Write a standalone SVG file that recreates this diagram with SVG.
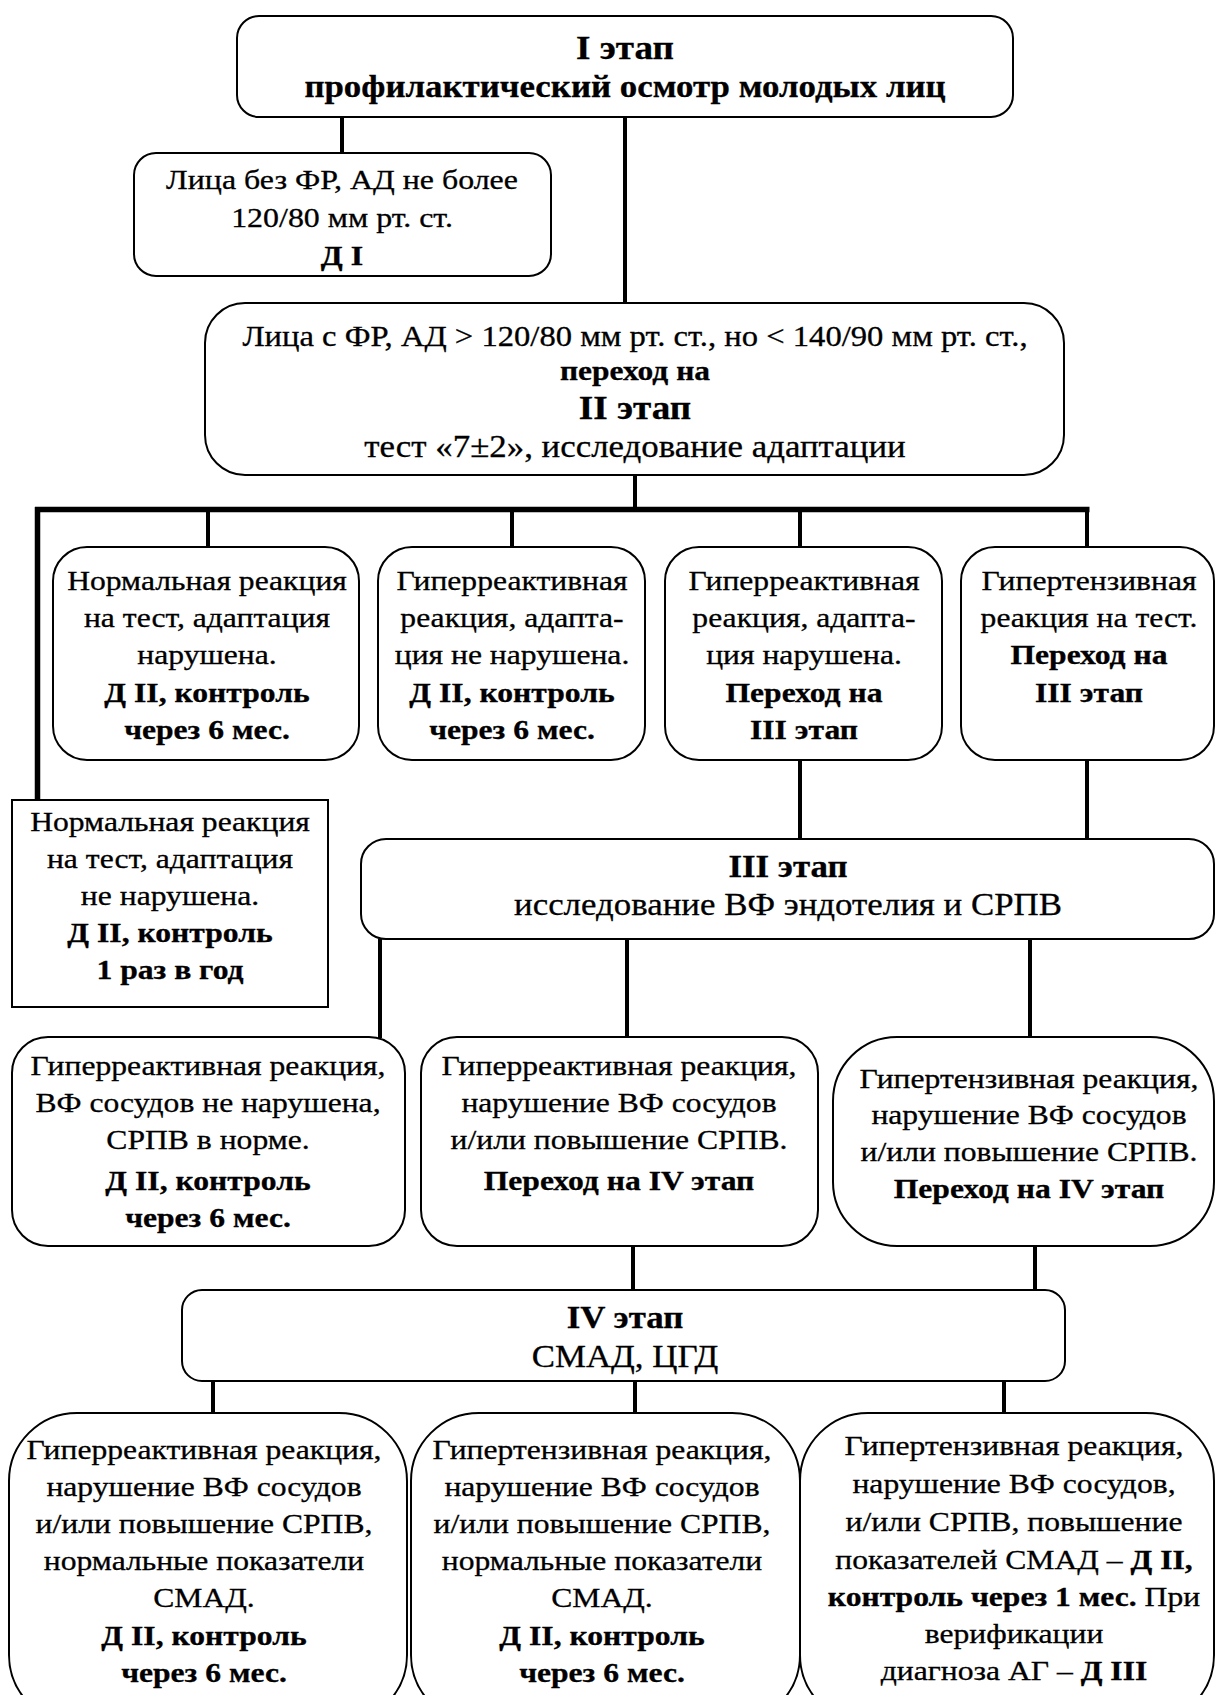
<svg xmlns="http://www.w3.org/2000/svg" width="1217" height="1695" viewBox="0 0 1217 1695">
<style>
.box{fill:#fff;stroke:#000;stroke-width:2}
.t{font-family:"Liberation Serif","Times New Roman",serif;font-size:28px;text-anchor:middle;fill:#000;stroke:#000;stroke-width:0.3}
.b{font-weight:bold}
.big{font-size:31px}
.hd{font-size:33px}
#connectors line{stroke:#000;stroke-width:4}
#connectors .bus{stroke-width:5.5}
</style>
<rect width="1217" height="1695" fill="#fff"/>
<g id="connectors">
<line x1="342" y1="117" x2="342" y2="154"/>
<line x1="625" y1="117" x2="625" y2="304"/>
<line x1="635" y1="475" x2="635" y2="509"/>
<line class="bus" x1="35" y1="509.5" x2="1089.5" y2="509.5"/>
<line class="bus" x1="37.5" y1="507" x2="37.5" y2="801"/>
<line x1="208" y1="509" x2="208" y2="548"/>
<line x1="512" y1="509" x2="512" y2="548"/>
<line x1="800" y1="509" x2="800" y2="548"/>
<line x1="1087" y1="509" x2="1087" y2="548"/>
<line x1="800" y1="759" x2="800" y2="840"/>
<line x1="1087" y1="759" x2="1087" y2="842"/>
<line x1="380" y1="939" x2="380" y2="1038"/>
<line x1="627" y1="939" x2="627" y2="1038"/>
<line x1="1030" y1="939" x2="1030" y2="1038"/>
<line x1="633" y1="1246" x2="633" y2="1291"/>
<line x1="1035" y1="1246" x2="1035" y2="1291"/>
<line x1="213" y1="1381" x2="213" y2="1414"/>
<line x1="635" y1="1381" x2="635" y2="1414"/>
<line x1="1004" y1="1381" x2="1004" y2="1414"/>
</g>
<g id="stage1">
<rect class="box" x="237" y="16" width="776" height="101" rx="22"/>
<g transform="translate(625,0) scale(1.125,1)"><text class="t b big"><tspan x="0" y="59" class="hd">I этап</tspan><tspan x="0" y="97">профилактический осмотр молодых лиц</tspan></text></g>
</g>
<g id="d1">
<rect class="box" x="134" y="153" width="417" height="123" rx="22"/>
<g transform="translate(342,0) scale(1.14,1)"><text class="t"><tspan x="0" y="189">Лица без ФР, АД не более</tspan><tspan x="0" y="227">120/80 мм рт. ст.</tspan><tspan x="0" y="265" class="b">Д I</tspan></text></g>
</g>
<g id="stage2">
<rect class="box" x="205" y="303" width="859" height="172" rx="40"/>
<g transform="translate(635,0) scale(1.125,1)"><text class="t"><tspan x="0" y="346" style="font-size:29px">Лица с ФР, АД &gt; 120/80 мм рт. ст., но &lt; 140/90 мм рт. ст.,</tspan><tspan x="0" y="380" class="b">переход на</tspan><tspan x="0" y="419" class="b hd">II этап</tspan><tspan x="0" y="457" class="big">тест «7±2», исследование адаптации</tspan></text></g>
</g>
<g id="r2n1">
<rect class="box" x="53" y="547" width="306" height="213" rx="34"/>
<g transform="translate(207,0) scale(1.13,1)"><text class="t"><tspan x="0" y="590">Нормальная реакция</tspan><tspan x="0" y="627">на тест, адаптация</tspan><tspan x="0" y="664">нарушена.</tspan><tspan x="0" y="702" class="b">Д II, контроль</tspan><tspan x="0" y="739" class="b">через 6 мес.</tspan></text></g>
</g>
<g id="r2n2">
<rect class="box" x="378" y="547" width="267" height="213" rx="34"/>
<g transform="translate(512,0) scale(1.13,1)"><text class="t"><tspan x="0" y="590">Гиперреактивная</tspan><tspan x="0" y="627">реакция, адапта-</tspan><tspan x="0" y="664">ция не нарушена.</tspan><tspan x="0" y="702" class="b">Д II, контроль</tspan><tspan x="0" y="739" class="b">через 6 мес.</tspan></text></g>
</g>
<g id="r2n3">
<rect class="box" x="665" y="547" width="277" height="213" rx="34"/>
<g transform="translate(804,0) scale(1.13,1)"><text class="t"><tspan x="0" y="590">Гиперреактивная</tspan><tspan x="0" y="627">реакция, адапта-</tspan><tspan x="0" y="664">ция нарушена.</tspan><tspan x="0" y="702" class="b">Переход на</tspan><tspan x="0" y="739" class="b">III этап</tspan></text></g>
</g>
<g id="r2n4">
<rect class="box" x="961" y="547" width="253" height="213" rx="34"/>
<g transform="translate(1089,0) scale(1.13,1)"><text class="t"><tspan x="0" y="590">Гипертензивная</tspan><tspan x="0" y="627">реакция на тест.</tspan><tspan x="0" y="664" class="b">Переход на</tspan><tspan x="0" y="702" class="b">III этап</tspan></text></g>
</g>
<g id="left">
<rect class="box" x="12" y="800" width="316" height="207"/>
<g transform="translate(170,0) scale(1.13,1)"><text class="t"><tspan x="0" y="831">Нормальная реакция</tspan><tspan x="0" y="868">на тест, адаптация</tspan><tspan x="0" y="905">не нарушена.</tspan><tspan x="0" y="942" class="b">Д II, контроль</tspan><tspan x="0" y="979" class="b">1 раз в год</tspan></text></g>
</g>
<g id="stage3">
<rect class="box" x="361" y="839" width="853" height="100" rx="25"/>
<g transform="translate(788,0) scale(1.125,1)"><text class="t big"><tspan x="0" y="877" class="b">III этап</tspan><tspan x="0" y="915">исследование ВФ эндотелия и СРПВ</tspan></text></g>
</g>
<g id="r3n1">
<rect class="box" x="12" y="1037" width="393" height="209" rx="36"/>
<g transform="translate(208,0) scale(1.13,1)"><text class="t"><tspan x="0" y="1075">Гиперреактивная реакция,</tspan><tspan x="0" y="1112">ВФ сосудов не нарушена,</tspan><tspan x="0" y="1149">СРПВ в норме.</tspan><tspan x="0" y="1190" class="b">Д II, контроль</tspan><tspan x="0" y="1227" class="b">через 6 мес.</tspan></text></g>
</g>
<g id="r3n2">
<rect class="box" x="421" y="1037" width="397" height="209" rx="36"/>
<g transform="translate(619,0) scale(1.13,1)"><text class="t"><tspan x="0" y="1075">Гиперреактивная реакция,</tspan><tspan x="0" y="1112">нарушение ВФ сосудов</tspan><tspan x="0" y="1149">и/или повышение СРПВ.</tspan><tspan x="0" y="1190" class="b">Переход на IV этап</tspan></text></g>
</g>
<g id="r3n3">
<rect class="box" x="833" y="1037" width="381" height="209" rx="64"/>
<g transform="translate(1029,0) scale(1.13,1)"><text class="t"><tspan x="0" y="1088">Гипертензивная реакция,</tspan><tspan x="0" y="1124">нарушение ВФ сосудов</tspan><tspan x="0" y="1161">и/или повышение СРПВ.</tspan><tspan x="0" y="1198" class="b">Переход на IV этап</tspan></text></g>
</g>
<g id="stage4">
<rect class="box" x="182" y="1290" width="883" height="91" rx="20"/>
<g transform="translate(625,0) scale(1.125,1)"><text class="t big"><tspan x="0" y="1328" class="b">IV этап</tspan><tspan x="0" y="1367">СМАД, ЦГД</tspan></text></g>
</g>
<g id="b1">
<rect class="box" x="9" y="1413" width="398" height="310" rx="68"/>
<g transform="translate(204,0) scale(1.13,1)"><text class="t"><tspan x="0" y="1459">Гиперреактивная реакция,</tspan><tspan x="0" y="1496">нарушение ВФ сосудов</tspan><tspan x="0" y="1533">и/или повышение СРПВ,</tspan><tspan x="0" y="1570">нормальные показатели</tspan><tspan x="0" y="1607">СМАД.</tspan><tspan x="0" y="1645" class="b">Д II, контроль</tspan><tspan x="0" y="1682" class="b">через 6 мес.</tspan></text></g>
</g>
<g id="b2">
<rect class="box" x="411" y="1413" width="389" height="310" rx="68"/>
<g transform="translate(602,0) scale(1.13,1)"><text class="t"><tspan x="0" y="1459">Гипертензивная реакция,</tspan><tspan x="0" y="1496">нарушение ВФ сосудов</tspan><tspan x="0" y="1533">и/или повышение СРПВ,</tspan><tspan x="0" y="1570">нормальные показатели</tspan><tspan x="0" y="1607">СМАД.</tspan><tspan x="0" y="1645" class="b">Д II, контроль</tspan><tspan x="0" y="1682" class="b">через 6 мес.</tspan></text></g>
</g>
<g id="b3">
<rect class="box" x="800" y="1413" width="414" height="310" rx="68"/>
<g transform="translate(1014,0) scale(1.13,1)"><text class="t"><tspan x="0" y="1455">Гипертензивная реакция,</tspan><tspan x="0" y="1493">нарушение ВФ сосудов,</tspan><tspan x="0" y="1531">и/или СРПВ, повышение</tspan><tspan x="0" y="1569">показателей СМАД – <tspan class="b">Д II,</tspan></tspan><tspan x="0" y="1606"><tspan class="b">контроль через 1 мес.</tspan> При</tspan><tspan x="0" y="1643">верификации</tspan><tspan x="0" y="1680">диагноза АГ – <tspan class="b">Д III</tspan></tspan></text></g>
</g>
</svg>
